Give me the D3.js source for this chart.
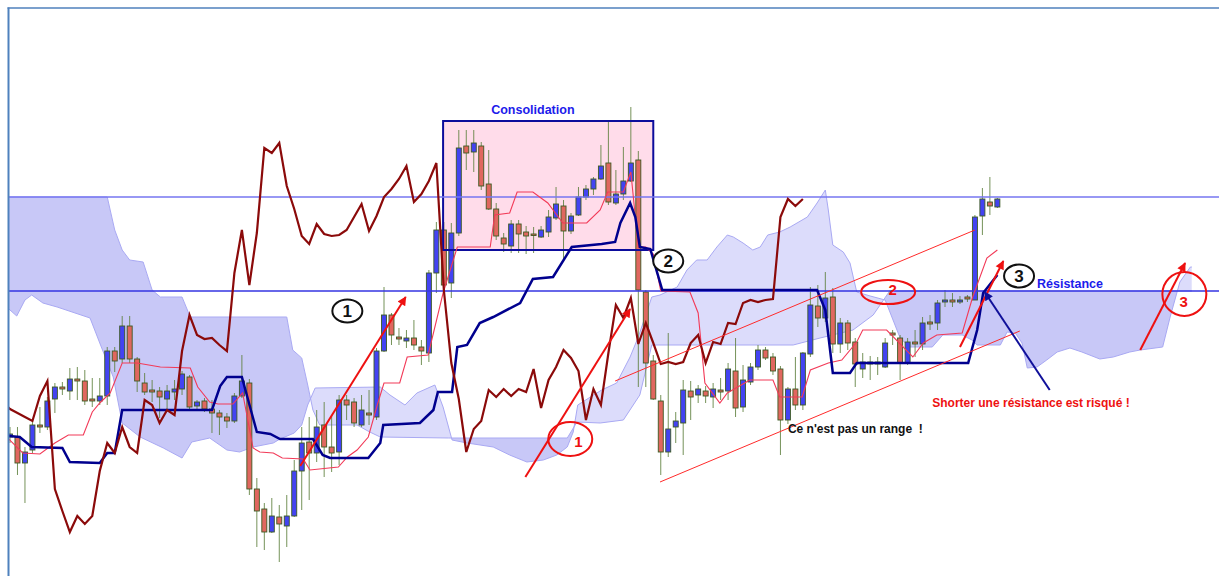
<!DOCTYPE html>
<html>
<head>
<meta charset="utf-8">
<script src="https://cdn.jsdelivr.net/npm/d3@7"></script>
<style>
body { margin: 0; background: #fff; }
svg { display: block; }
</style>
</head>
<body>
<svg></svg>
<script>
var width = 1219;
var height = 576;

// ============================== DATA (index = bar number, value = price points) ==============================
const openP = [
163, 163, 137, 150, 175, 173, 201, 213, 209, 221,
219, 201, 199, 204, 249, 241, 274, 241, 217, 210,
209, 201, 208, 211, 223, 194, 199, 191, 187, 183,
179, 204, 217, 111, 91, 68, 83, 74, 84, 129,
158, 147, 175, 153, 148, 200, 198, 175, 187, 183,
249, 285, 263, 259, 262, 253, 247, 327, 370, 317,
367, 454, 448, 454, 416, 391, 362, 354, 376, 368,
366, 363, 368, 382, 394, 369, 385, 403, 411, 421,
437, 397, 406, 419, 440, 308, 239, 199, 148, 173,
177, 209, 205, 209, 203, 210, 209, 229, 193, 218,
233, 250, 243, 231, 180, 211, 195, 246, 294, 282,
303, 256, 277, 258, 231, 238, 236, 233, 267, 262,
237, 258, 256, 278, 277, 298, 300, 298, 303, 300,
384, 398, 393];

const highP = [
173, 173, 153, 180, 193, 203, 217, 218, 232, 233,
230, 222, 222, 253, 253, 284, 284, 243, 227, 220,
213, 215, 220, 229, 225, 200, 202, 200, 190, 187,
207, 245, 221, 122, 97, 102, 95, 105, 140, 173,
183, 190, 198, 185, 205, 205, 202, 205, 210, 252,
313, 287, 272, 270, 280, 260, 330, 378, 378, 377,
470, 470, 470, 458, 450, 397, 367, 380, 380, 374,
373, 374, 390, 413, 400, 387, 413, 415, 423, 455,
478, 430, 453, 493, 449, 310, 245, 205, 267, 188,
220, 219, 215, 214, 217, 222, 237, 262, 235, 237,
255, 253, 247, 234, 213, 243, 248, 313, 315, 328,
312, 282, 280, 262, 247, 244, 243, 262, 270, 265,
262, 270, 283, 285, 300, 310, 307, 304, 305, 385,
412, 423, 402];

const lowP = [
157, 125, 97, 147, 167, 170, 187, 205, 200, 200,
195, 193, 195, 195, 228, 237, 237, 208, 205, 198,
182, 190, 200, 205, 190, 190, 188, 167, 165, 172,
177, 202, 105, 53, 50, 67, 38, 53, 83, 90,
100, 138, 123, 128, 135, 180, 173, 173, 175, 180,
248, 255, 255, 252, 250, 235, 238, 307, 310, 302,
364, 430, 428, 410, 390, 360, 348, 347, 347, 346,
347, 362, 363, 380, 338, 366, 384, 400, 405, 420,
395, 395, 400, 418, 213, 213, 200, 125, 143, 157,
145, 180, 197, 197, 192, 200, 200, 183, 188, 215,
230, 240, 225, 145, 176, 190, 190, 243, 273, 278,
247, 247, 250, 213, 222, 220, 225, 232, 255, 220,
235, 243, 250, 270, 270, 293, 293, 296, 298, 300,
365, 385, 392];

const closeP = [
166, 137, 148, 175, 173, 199, 213, 211, 221, 219,
199, 199, 204, 249, 239, 274, 241, 219, 208, 208,
203, 209, 211, 226, 193, 198, 191, 187, 183, 179,
204, 219, 111, 89, 68, 84, 76, 84, 129, 157,
147, 173, 153, 147, 200, 195, 177, 190, 185, 249,
285, 265, 261, 262, 255, 249, 327, 370, 315, 367,
452, 447, 457, 414, 391, 364, 356, 376, 366, 364,
365, 370, 383, 396, 369, 384, 403, 411, 421, 434,
398, 406, 419, 437, 310, 237, 201, 148, 171, 179,
210, 203, 211, 204, 211, 208, 231, 192, 220, 233,
250, 242, 229, 180, 211, 195, 247, 295, 282, 302,
256, 277, 257, 236, 238, 236, 238, 257, 265, 237,
258, 256, 277, 276, 297, 300, 298, 300, 301, 383,
401, 394, 401];

// Tenkan-sen [bar, value]
const tenkan = [
[-0.3,162],[1.7,147],[4.0,146],[6.0,157],[7.8,165],[9.8,165],[11.0,188],[12.0,197],[13.4,207],
[15.0,237],[17.0,237],[20.1,233],[24.1,232],[25.1,213],[26.7,198],[27.8,196],[29.8,196],[31.1,207],
[32.5,152],[33.4,148],[35.2,147],[36.4,142],[39.2,141],[40.1,130],[43.9,133],[45.1,143],[46.4,150],
[47.9,163],[49.1,195],[50.0,217],[52.1,217],[53.1,243],[55.9,245],[57.9,307],[59.8,353],[64.2,353],
[64.8,385],[66.8,387],[67.8,408],[69.9,408],[71.9,397],[73.9,377],[77.1,377],[78.9,390],[79.9,408],
[82.0,408],[83.0,428],[84.0,353],[85.0,353],[86.0,346],[87.0,309],[90.9,308],[92.0,287],[92.9,217],
[94.9,197],[95.9,207],[98.9,220],[102.0,220],[102.9,203],[105.9,203],[107.0,230],[109.4,237],
[111.2,240],[113.2,258],[114.0,270],[117.2,270],[120.7,243],[122.1,257],[123.9,265],[127.3,267],
[128.7,303],[130.6,342],[132.0,350]];

// Kijun-sen [bar, value]
const kijun = [
[-0.3,164],[1.3,163],[2.9,153],[7.0,152],[8.0,138],[12.0,137],[13.0,147],[14.0,147],[15.0,190],
[27.0,190],[28.1,214],[29.0,223],[31.0,223],[33.0,168],[34.8,166],[36.1,161],[40.5,161],[41.8,145],
[42.8,142],[47.9,142],[49.5,157],[49.9,175],[54.8,177],[56.6,190],[57.2,208],[59.1,208],[59.8,253],
[61.1,255],[62.8,277],[64.6,283],[68.2,297],[69.9,321],[72.6,323],[75.1,353],[79.1,356],[80.9,358],
[81.6,377],[82.9,397],[83.6,383],[84.2,353],[85.6,351],[87.2,310],[107.9,310],[109.0,290],[110.0,227],
[112.3,227],[113.2,237],[128.1,237],[129.3,270],[130.1,307],[132.0,325]];

// Senkou span A (already shifted forward) [bar, value]
const spanA = [
[-0.3,292],[0.9,284],[2.0,300],[2.9,305],[4.4,297],[6.3,293],[10.7,282],[12.0,257],[13.8,223],
[15.0,177],[17.4,163],[20.5,152],[23.0,142],[24.3,158],[26.7,162],[29.0,150],[30.7,148],[32.5,153],
[35.2,157],[36.1,161],[38.0,167],[39.0,175],[39.8,195],[40.8,212],[49.5,213],[50.8,205],[52.8,195],
[54.4,207],[56.8,215],[57.9,193],[59.1,160],[61.1,157],[64.6,153],[66.8,145],[69.1,138],[71.3,140],
[73.1,145],[74.5,153],[75.3,168],[75.9,195],[79.1,210],[81.1,217],[82.9,243],[84.0,263],[85.8,303],
[86.9,305],[89.2,313],[90.5,330],[91.8,340],[93.2,340],[94.5,353],[95.9,365],[96.7,363],[98.0,357],
[99.3,350],[100.3,353],[101.3,365],[102.9,368],[104.3,373],[106.6,383],[107.9,397],[109.0,410],
[109.4,390],[110.0,355],[111.4,348],[112.3,337],[113.2,308],[115.0,304],[117.0,300],[119.0,262],
[120.3,253],[123.3,253],[124.7,265],[127.3,265],[128.6,260],[129.3,255],[132.4,255],[133.3,268],
[134.4,267],[135.3,257],[136.0,232],[137.3,233],[138.6,240],[140.0,248],[141.7,252],[143.3,248],
[145.7,241],[147.5,243],[149.7,248],[151.1,250],[154.1,253],[155.1,283],[156.4,318],[157.8,333],[158.0,333]];

// Senkou span B (already shifted forward) [bar, value]
const spanB = [
[-0.3,403],[13.0,403],[14.0,370],[15.0,350],[16.0,340],[17.8,338],[19.0,310],[20.1,303],[23.0,303],
[24.1,283],[37.0,283],[37.8,250],[39.0,242],[39.8,215],[40.5,190],[41.4,175],[46.4,175],[48.1,168],
[49.5,163],[58.6,162],[74.5,162],[75.8,178],[78.9,177],[82.0,180],[84.2,205],[85.8,255],[104.7,255],
[108.3,262],[112.7,270],[115.4,285],[117.6,309],[158.0,309]];

const levels = [403, 309];          // horizontal lines
const chikouShift = 26;             // lagging span = close drawn 26 bars back
// ============================================================================================================

var xs = d3.scaleLinear().domain([0, 158]).range([10, 10 + 7.48 * 158]);
var ys = d3.scaleLinear().domain([0, 600]).range([600, 0]);

var svg = d3.select("svg").attr("width", width).attr("height", height);
var defs = svg.append("defs");

defs.append("clipPath").attr("id", "plot")
    .append("rect").attr("x", 9).attr("y", 9).attr("width", width - 9).attr("height", height - 9);

var ptLine = d3.line().x(d => xs(d[0])).y(d => ys(d[1]));

// clip regions above / below span B
var bFirst = spanB[0][0], bLast = spanB[spanB.length - 1][0];
defs.append("clipPath").attr("id", "aboveB").append("path")
    .attr("d", ptLine(spanB.concat([[bLast, 900], [bFirst, 900]])) + "Z");
defs.append("clipPath").attr("id", "belowB").append("path")
    .attr("d", ptLine(spanB.concat([[bLast, -300], [bFirst, -300]])) + "Z");

function arrowMarker(id, color) {
    defs.append("marker").attr("id", id)
        .attr("viewBox", "0 0 10 10").attr("refX", 9).attr("refY", 5)
        .attr("markerWidth", 10).attr("markerHeight", 9)
        .attr("markerUnits", "userSpaceOnUse").attr("orient", "auto")
        .append("path").attr("d", "M0,0 L10,5 L0,10 z").attr("fill", color);
}
arrowMarker("arrRed", "#ee1111");
arrowMarker("arrNavy", "#10109a");

var g = svg.append("g").attr("clip-path", "url(#plot)");

// ================== CLOUD ==================
var cloudPoly = ptLine(spanA.concat(spanB.slice().reverse())) + "Z";
g.append("g").attr("clip-path", "url(#aboveB)")
    .append("path").attr("d", cloudPoly).attr("fill", "#dcdcfb");
g.append("g").attr("clip-path", "url(#belowB)")
    .append("path").attr("d", cloudPoly).attr("fill", "#c8c8f7");
g.append("path").datum(spanA).attr("d", ptLine)
    .attr("fill", "none").attr("stroke", "#a9a9f3").attr("stroke-width", 1);
g.append("path").datum(spanB).attr("d", ptLine)
    .attr("fill", "none").attr("stroke", "#a9a9f3").attr("stroke-width", 1);

// ================== CONSOLIDATION BOX ==================
g.append("rect")
    .attr("x", xs(57.9)).attr("y", ys(479))
    .attr("width", xs(86.0) - xs(57.9)).attr("height", ys(350) - ys(479))
    .attr("fill", "#ffdcea").attr("stroke", "none");

// ================== CANDLES ==================
var idx = d3.range(closeP.length);
var candles = g.append("g");
candles.selectAll("line.wick").data(idx).enter().append("line")
    .attr("class", "wick")
    .attr("x1", i => xs(i)).attr("x2", i => xs(i))
    .attr("y1", i => ys(highP[i])).attr("y2", i => ys(lowP[i]))
    .attr("stroke", "#5d7f3c").attr("stroke-width", 1).attr("stroke-opacity", 0.85);
candles.selectAll("rect.body").data(idx).enter().append("rect")
    .attr("class", "body")
    .attr("x", i => xs(i) - 2.5)
    .attr("y", i => ys(Math.max(openP[i], closeP[i])))
    .attr("width", 5)
    .attr("height", i => Math.max(1.5, Math.abs(ys(openP[i]) - ys(closeP[i]))))
    .attr("fill", i => closeP[i] >= openP[i] ? "#4343f2" : "#e0675f")
    .attr("stroke", "#3c5a22").attr("stroke-width", 0.9);

// box outline on top of candles
g.append("rect")
    .attr("x", xs(57.9)).attr("y", ys(479))
    .attr("width", xs(86.0) - xs(57.9)).attr("height", ys(350) - ys(479))
    .attr("fill", "none").attr("stroke", "#0c0c9c").attr("stroke-width", 2);

// ================== LEVELS ==================
g.selectAll("line.level").data(levels).enter().append("line")
    .attr("class", "level")
    .attr("x1", 9).attr("x2", width)
    .attr("y1", d => ys(d)).attr("y2", d => ys(d))
    .attr("stroke", (d, i) => i === 0 ? "#7676f0" : "#3535e2")
    .attr("stroke-width", 1.5);

// ================== ICHIMOKU LINES ==================
g.append("path").datum(tenkan).attr("d", ptLine)
    .attr("fill", "none").attr("stroke", "#f23a58").attr("stroke-width", 1.1);
g.append("path").datum(kijun).attr("d", ptLine)
    .attr("fill", "none").attr("stroke", "#00008e").attr("stroke-width", 2.5);
var chikou = closeP.map((c, i) => [i - chikouShift, c]).filter(d => d[0] >= -1);
g.append("path").datum(chikou).attr("d", ptLine)
    .attr("fill", "none").attr("stroke", "#8b0a0a").attr("stroke-width", 2.2);

// ================== ANNOTATIONS ==================
var ann = svg.append("g");
var font = "Arial, 'Liberation Sans', sans-serif";

ann.append("text").attr("x", xs(69.9)).attr("y", ys(486))
    .attr("text-anchor", "middle").attr("font-family", font).attr("font-weight", "bold")
    .attr("font-size", 12.5).attr("fill", "#1c1ceb").text("Consolidation");

// channel lines
[[[80.9, 219], [129.0, 370]], [[86.9, 118], [135.0, 269]]].forEach(function (s) {
    ann.append("line").attr("x1", xs(s[0][0])).attr("y1", ys(s[0][1]))
        .attr("x2", xs(s[1][0])).attr("y2", ys(s[1][1]))
        .attr("stroke", "#ff2a2a").attr("stroke-width", 1);
});

// red arrows
[[[38.8, 134], [52.9, 303]], [[68.9, 123], [82.9, 291]], [[127.0, 253], [132.8, 339]], [[151.1, 250], [157.1, 337]]]
    .forEach(function (s) {
        ann.append("line").attr("x1", xs(s[0][0])).attr("y1", ys(s[0][1]))
            .attr("x2", xs(s[1][0])).attr("y2", ys(s[1][1]))
            .attr("stroke", "#ee1111").attr("stroke-width", 2)
            .attr("marker-end", "url(#arrRed)");
    });

// navy arrow
ann.append("line").attr("x1", xs(139.0)).attr("y1", ys(210))
    .attr("x2", xs(130.3)).attr("y2", ys(308))
    .attr("stroke", "#10109a").attr("stroke-width", 2)
    .attr("marker-end", "url(#arrNavy)");

// black circled numbers
[[45.1, 289, "1"], [88.0, 339, "2"], [134.9, 324, "3"]].forEach(function (c) {
    ann.append("ellipse").attr("cx", xs(c[0])).attr("cy", ys(c[1]))
        .attr("rx", 15).attr("ry", 11.5)
        .attr("fill", "#fff").attr("stroke", "#111").attr("stroke-width", 2);
    ann.append("text").attr("x", xs(c[0])).attr("y", ys(c[1]) + 6)
        .attr("text-anchor", "middle").attr("font-family", font).attr("font-weight", "bold")
        .attr("font-size", 17).attr("fill", "#111").text(c[2]);
});

// red ellipses
[[74.9, 161, 22, 17, 76.0, "1"], [117.4, 308, 27, 12, 117.9, "2"], [157.0, 306, 22, 22, 156.9, "3"]]
    .forEach(function (c) {
        ann.append("ellipse").attr("cx", xs(c[0])).attr("cy", ys(c[1]))
            .attr("rx", c[2]).attr("ry", c[3])
            .attr("fill", "none").attr("stroke", "#ee1111").attr("stroke-width", 2);
    });
[[76.0, 153, "1"], [118.0, 305, "2"], [156.9, 293, "3"]].forEach(function (c) {
    ann.append("text").attr("x", xs(c[0])).attr("y", ys(c[1]))
        .attr("text-anchor", "middle").attr("font-family", font).attr("font-weight", "bold")
        .attr("font-size", 15).attr("fill", "#ee1111").text(c[2]);
});

ann.append("text").attr("x", xs(137.3)).attr("y", ys(312))
    .attr("font-family", font).attr("font-weight", "bold")
    .attr("font-size", 12.5).attr("fill", "#1c1ceb").text("Résistance");
ann.append("text").attr("x", xs(123.3)).attr("y", ys(193))
    .attr("font-family", font).attr("font-weight", "bold")
    .attr("font-size", 12).attr("fill", "#ee1111").text("Shorter une résistance est risqué !");
ann.append("text").attr("x", xs(104.0)).attr("y", ys(167))
    .attr("font-family", font).attr("font-weight", "bold").attr("xml:space", "preserve")
    .style("white-space", "pre")
    .attr("font-size", 12).attr("fill", "#111").text("Ce n'est pas un range  !");

// ================== FRAME ==================
svg.append("line").attr("x1", 8.5).attr("x2", 8.5).attr("y1", 7.5).attr("y2", height)
    .attr("stroke", "#4f81bd").attr("stroke-width", 2);
svg.append("line").attr("x1", 7.5).attr("x2", width).attr("y1", 8).attr("y2", 8)
    .attr("stroke", "#4f81bd").attr("stroke-width", 1.5);
</script>
</body>
</html>
